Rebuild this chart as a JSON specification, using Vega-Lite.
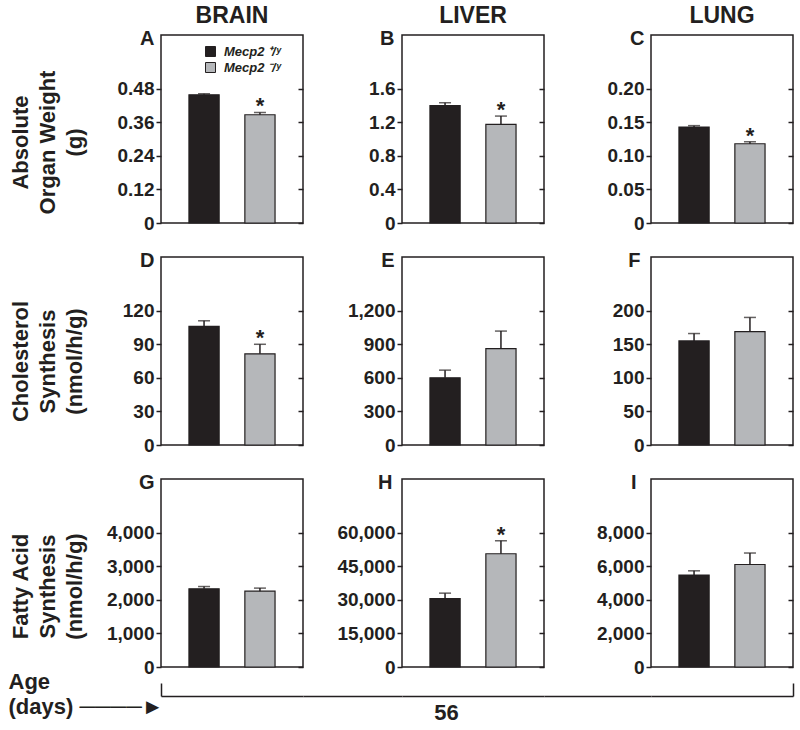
{
 "$schema": "https://vega.github.io/schema/vega-lite/v6.json",
 "background": "white",
 "padding": {"left": 7, "top": 4, "right": 0, "bottom": 0},
 "columns": 5,
 "align": "each",
 "bounds": "flush",
 "spacing": {"row": 34, "column": 0},
 "concat": [
  {
   "width": 142, "height": 188,
   "title": {"text": "BRAIN", "fontSize": 23, "frame": "group", "anchor": "middle", "baseline": "alphabetic", "offset": -18},
   "data": {"values": [{"geno": "+/y", "mean": 0.458, "hi": 0.462, "sig": ""}, {"geno": "-/y", "mean": 0.387, "hi": 0.395, "sig": "*"}]},
   "layer": [
    {"layer": [
     {"mark": {"type": "bar", "stroke": "#231f20", "strokeWidth": 1.2},
      "encoding": {
       "x": {"field": "geno", "type": "nominal", "scale": {"paddingInner": 0.46, "paddingOuter": 0.5}, "axis": {"orient": "top", "labels": false, "ticks": false, "domain": false, "title": "A", "titleX": -7, "titleY": 9, "titleAlign": "right", "titleBaseline": "alphabetic", "titleAngle": 0, "titleFontSize": 20}},
       "y": {"field": "mean", "type": "quantitative", "scale": {"domain": [0, 0.672], "nice": false}, "axis": {"orient": "left", "values": [0, 0.12, 0.24, 0.36, 0.48], "labelExpr": "datum.value == 0 ? '0' : format(datum.value, '.2f')", "title": ["Absolute", "Organ Weight", "(g)"], "titleFontSize": 22, "titleAngle": -90, "titleX": -151, "titleY": 107, "titleAlign": "center", "titleBaseline": "top", "titleLineHeight": 27}},
       "color": {"field": "geno", "type": "nominal", "scale": {"domain": ["+/y", "-/y"], "range": ["#231f20", "#b5b7ba"]}, "legend": {"orient": "none", "legendX": 43, "legendY": 10, "title": null, "symbolType": "square", "symbolSize": 100, "symbolStrokeColor": "#231f20", "symbolStrokeWidth": 1, "labelFont": "Liberation Sans", "labelFontSize": 13, "labelFontStyle": "italic", "labelFontWeight": "bold", "labelColor": "#231f20", "labelOffset": 7, "rowPadding": 1, "padding": 0, "labelExpr": "datum.label == '+/y' ? 'Mecp2 ⁺/ʸ' : 'Mecp2 ⁻/ʸ'"}}
      }},
     {"mark": {"type": "rule", "color": "#231f20", "strokeWidth": 1.5},
      "encoding": {"x": {"field": "geno", "type": "nominal"}, "y": {"field": "mean", "type": "quantitative"}, "y2": {"field": "hi"}}},
     {"mark": {"type": "tick", "orient": "horizontal", "color": "#231f20", "size": 12, "thickness": 1.5},
      "encoding": {"x": {"field": "geno", "type": "nominal"}, "y": {"field": "hi", "type": "quantitative"}}},
     {"mark": {"type": "text", "color": "#231f20", "fontSize": 22, "fontWeight": "bold", "baseline": "alphabetic", "dy": 1},
      "encoding": {"x": {"field": "geno", "type": "nominal"}, "y": {"field": "hi", "type": "quantitative"}, "text": {"field": "sig"}}}
    ]},
    {"mark": {"type": "point", "opacity": 0},
     "encoding": {"y": {"field": "mean", "type": "quantitative", "axis": {"orient": "right", "offset": -5, "values": [0, 0.12, 0.24, 0.36, 0.48], "labels": false, "title": null}}}}
   ]
  },
  {"width": 99, "height": 188, "view": {"stroke": null}, "data": {"values": [{"v": 0}]}, "mark": {"type": "point", "opacity": 0}, "encoding": {}},
  {
   "width": 142, "height": 188,
   "title": {"text": "LIVER", "fontSize": 23, "frame": "group", "anchor": "middle", "baseline": "alphabetic", "offset": -18},
   "data": {"values": [{"geno": "+/y", "mean": 1.40, "hi": 1.433, "sig": ""}, {"geno": "-/y", "mean": 1.174, "hi": 1.274, "sig": "*"}]},
   "layer": [
    {"layer": [
     {"mark": {"type": "bar", "stroke": "#231f20", "strokeWidth": 1.2},
      "encoding": {
       "x": {"field": "geno", "type": "nominal", "scale": {"paddingInner": 0.46, "paddingOuter": 0.5}, "axis": {"orient": "top", "labels": false, "ticks": false, "domain": false, "title": "B", "titleX": -8, "titleY": 9, "titleAlign": "right", "titleBaseline": "alphabetic", "titleAngle": 0, "titleFontSize": 20}},
       "y": {"field": "mean", "type": "quantitative", "scale": {"domain": [0, 2.24], "nice": false}, "axis": {"orient": "left", "values": [0, 0.4, 0.8, 1.2, 1.6], "labelExpr": "datum.value == 0 ? '0' : format(datum.value, '.1f')", "title": null}},
       "color": {"field": "geno", "type": "nominal", "scale": {"domain": ["+/y", "-/y"], "range": ["#231f20", "#b5b7ba"]}, "legend": null}
      }},
     {"mark": {"type": "rule", "color": "#231f20", "strokeWidth": 1.5},
      "encoding": {"x": {"field": "geno", "type": "nominal"}, "y": {"field": "mean", "type": "quantitative"}, "y2": {"field": "hi"}}},
     {"mark": {"type": "tick", "orient": "horizontal", "color": "#231f20", "size": 12, "thickness": 1.5},
      "encoding": {"x": {"field": "geno", "type": "nominal"}, "y": {"field": "hi", "type": "quantitative"}}},
     {"mark": {"type": "text", "color": "#231f20", "fontSize": 22, "fontWeight": "bold", "baseline": "alphabetic", "dy": 1},
      "encoding": {"x": {"field": "geno", "type": "nominal"}, "y": {"field": "hi", "type": "quantitative"}, "text": {"field": "sig"}}}
    ]},
    {"mark": {"type": "point", "opacity": 0},
     "encoding": {"y": {"field": "mean", "type": "quantitative", "axis": {"orient": "right", "offset": -5, "values": [0, 0.4, 0.8, 1.2, 1.6], "labels": false, "title": null}}}}
   ]
  },
  {"width": 107, "height": 188, "view": {"stroke": null}, "data": {"values": [{"v": 0}]}, "mark": {"type": "point", "opacity": 0}, "encoding": {}},
  {
   "width": 142, "height": 188,
   "title": {"text": "LUNG", "fontSize": 23, "frame": "group", "anchor": "middle", "baseline": "alphabetic", "offset": -18},
   "data": {"values": [{"geno": "+/y", "mean": 0.143, "hi": 0.145, "sig": ""}, {"geno": "-/y", "mean": 0.118, "hi": 0.121, "sig": "*"}]},
   "layer": [
    {"layer": [
     {"mark": {"type": "bar", "stroke": "#231f20", "strokeWidth": 1.2},
      "encoding": {
       "x": {"field": "geno", "type": "nominal", "scale": {"paddingInner": 0.46, "paddingOuter": 0.5}, "axis": {"orient": "top", "labels": false, "ticks": false, "domain": false, "title": "C", "titleX": -7, "titleY": 9, "titleAlign": "right", "titleBaseline": "alphabetic", "titleAngle": 0, "titleFontSize": 20}},
       "y": {"field": "mean", "type": "quantitative", "scale": {"domain": [0, 0.28], "nice": false}, "axis": {"orient": "left", "values": [0, 0.05, 0.1, 0.15, 0.2], "labelExpr": "datum.value == 0 ? '0' : format(datum.value, '.2f')", "title": null}},
       "color": {"field": "geno", "type": "nominal", "scale": {"domain": ["+/y", "-/y"], "range": ["#231f20", "#b5b7ba"]}, "legend": null}
      }},
     {"mark": {"type": "rule", "color": "#231f20", "strokeWidth": 1.5},
      "encoding": {"x": {"field": "geno", "type": "nominal"}, "y": {"field": "mean", "type": "quantitative"}, "y2": {"field": "hi"}}},
     {"mark": {"type": "tick", "orient": "horizontal", "color": "#231f20", "size": 12, "thickness": 1.5},
      "encoding": {"x": {"field": "geno", "type": "nominal"}, "y": {"field": "hi", "type": "quantitative"}}},
     {"mark": {"type": "text", "color": "#231f20", "fontSize": 22, "fontWeight": "bold", "baseline": "alphabetic", "dy": 1},
      "encoding": {"x": {"field": "geno", "type": "nominal"}, "y": {"field": "hi", "type": "quantitative"}, "text": {"field": "sig"}}}
    ]},
    {"mark": {"type": "point", "opacity": 0},
     "encoding": {"y": {"field": "mean", "type": "quantitative", "axis": {"orient": "right", "offset": -5, "values": [0, 0.05, 0.1, 0.15, 0.2], "labels": false, "title": null}}}}
   ]
  },
  {
   "width": 142, "height": 188,
   "data": {"values": [{"geno": "+/y", "mean": 106, "hi": 111, "sig": ""}, {"geno": "-/y", "mean": 81.5, "hi": 90, "sig": "*"}]},
   "layer": [
    {"layer": [
     {"mark": {"type": "bar", "stroke": "#231f20", "strokeWidth": 1.2},
      "encoding": {
       "x": {"field": "geno", "type": "nominal", "scale": {"paddingInner": 0.46, "paddingOuter": 0.5}, "axis": {"orient": "top", "labels": false, "ticks": false, "domain": false, "title": "D", "titleX": -7, "titleY": 9, "titleAlign": "right", "titleBaseline": "alphabetic", "titleAngle": 0, "titleFontSize": 20}},
       "y": {"field": "mean", "type": "quantitative", "scale": {"domain": [0, 168], "nice": false}, "axis": {"orient": "left", "values": [0, 30, 60, 90, 120], "labelExpr": "format(datum.value, ',')", "title": ["Cholesterol", "Synthesis", "(nmol/h/g)"], "titleFontSize": 22, "titleAngle": -90, "titleX": -151, "titleY": 104, "titleAlign": "center", "titleBaseline": "top", "titleLineHeight": 27}},
       "color": {"field": "geno", "type": "nominal", "scale": {"domain": ["+/y", "-/y"], "range": ["#231f20", "#b5b7ba"]}, "legend": null}
      }},
     {"mark": {"type": "rule", "color": "#231f20", "strokeWidth": 1.5},
      "encoding": {"x": {"field": "geno", "type": "nominal"}, "y": {"field": "mean", "type": "quantitative"}, "y2": {"field": "hi"}}},
     {"mark": {"type": "tick", "orient": "horizontal", "color": "#231f20", "size": 12, "thickness": 1.5},
      "encoding": {"x": {"field": "geno", "type": "nominal"}, "y": {"field": "hi", "type": "quantitative"}}},
     {"mark": {"type": "text", "color": "#231f20", "fontSize": 22, "fontWeight": "bold", "baseline": "alphabetic", "dy": 1},
      "encoding": {"x": {"field": "geno", "type": "nominal"}, "y": {"field": "hi", "type": "quantitative"}, "text": {"field": "sig"}}}
    ]},
    {"mark": {"type": "point", "opacity": 0},
     "encoding": {"y": {"field": "mean", "type": "quantitative", "axis": {"orient": "right", "offset": -5, "values": [0, 30, 60, 90, 120], "labels": false, "title": null}}}}
   ]
  },
  {"width": 99, "height": 188, "view": {"stroke": null}, "data": {"values": [{"v": 0}]}, "mark": {"type": "point", "opacity": 0}, "encoding": {}},
  {
   "width": 142, "height": 188,
   "data": {"values": [{"geno": "+/y", "mean": 600, "hi": 669, "sig": ""}, {"geno": "-/y", "mean": 862, "hi": 1018, "sig": ""}]},
   "layer": [
    {"layer": [
     {"mark": {"type": "bar", "stroke": "#231f20", "strokeWidth": 1.2},
      "encoding": {
       "x": {"field": "geno", "type": "nominal", "scale": {"paddingInner": 0.46, "paddingOuter": 0.5}, "axis": {"orient": "top", "labels": false, "ticks": false, "domain": false, "title": "E", "titleX": -8, "titleY": 9, "titleAlign": "right", "titleBaseline": "alphabetic", "titleAngle": 0, "titleFontSize": 20}},
       "y": {"field": "mean", "type": "quantitative", "scale": {"domain": [0, 1680], "nice": false}, "axis": {"orient": "left", "values": [0, 300, 600, 900, 1200], "labelExpr": "format(datum.value, ',')", "title": null}},
       "color": {"field": "geno", "type": "nominal", "scale": {"domain": ["+/y", "-/y"], "range": ["#231f20", "#b5b7ba"]}, "legend": null}
      }},
     {"mark": {"type": "rule", "color": "#231f20", "strokeWidth": 1.5},
      "encoding": {"x": {"field": "geno", "type": "nominal"}, "y": {"field": "mean", "type": "quantitative"}, "y2": {"field": "hi"}}},
     {"mark": {"type": "tick", "orient": "horizontal", "color": "#231f20", "size": 12, "thickness": 1.5},
      "encoding": {"x": {"field": "geno", "type": "nominal"}, "y": {"field": "hi", "type": "quantitative"}}},
     {"mark": {"type": "text", "color": "#231f20", "fontSize": 22, "fontWeight": "bold", "baseline": "alphabetic", "dy": 1},
      "encoding": {"x": {"field": "geno", "type": "nominal"}, "y": {"field": "hi", "type": "quantitative"}, "text": {"field": "sig"}}}
    ]},
    {"mark": {"type": "point", "opacity": 0},
     "encoding": {"y": {"field": "mean", "type": "quantitative", "axis": {"orient": "right", "offset": -5, "values": [0, 300, 600, 900, 1200], "labels": false, "title": null}}}}
   ]
  },
  {"width": 107, "height": 188, "view": {"stroke": null}, "data": {"values": [{"v": 0}]}, "mark": {"type": "point", "opacity": 0}, "encoding": {}},
  {
   "width": 142, "height": 188,
   "data": {"values": [{"geno": "+/y", "mean": 155, "hi": 166, "sig": ""}, {"geno": "-/y", "mean": 169, "hi": 190, "sig": ""}]},
   "layer": [
    {"layer": [
     {"mark": {"type": "bar", "stroke": "#231f20", "strokeWidth": 1.2},
      "encoding": {
       "x": {"field": "geno", "type": "nominal", "scale": {"paddingInner": 0.46, "paddingOuter": 0.5}, "axis": {"orient": "top", "labels": false, "ticks": false, "domain": false, "title": "F", "titleX": -11, "titleY": 9, "titleAlign": "right", "titleBaseline": "alphabetic", "titleAngle": 0, "titleFontSize": 20}},
       "y": {"field": "mean", "type": "quantitative", "scale": {"domain": [0, 280], "nice": false}, "axis": {"orient": "left", "values": [0, 50, 100, 150, 200], "labelExpr": "format(datum.value, ',')", "title": null}},
       "color": {"field": "geno", "type": "nominal", "scale": {"domain": ["+/y", "-/y"], "range": ["#231f20", "#b5b7ba"]}, "legend": null}
      }},
     {"mark": {"type": "rule", "color": "#231f20", "strokeWidth": 1.5},
      "encoding": {"x": {"field": "geno", "type": "nominal"}, "y": {"field": "mean", "type": "quantitative"}, "y2": {"field": "hi"}}},
     {"mark": {"type": "tick", "orient": "horizontal", "color": "#231f20", "size": 12, "thickness": 1.5},
      "encoding": {"x": {"field": "geno", "type": "nominal"}, "y": {"field": "hi", "type": "quantitative"}}},
     {"mark": {"type": "text", "color": "#231f20", "fontSize": 22, "fontWeight": "bold", "baseline": "alphabetic", "dy": 1},
      "encoding": {"x": {"field": "geno", "type": "nominal"}, "y": {"field": "hi", "type": "quantitative"}, "text": {"field": "sig"}}}
    ]},
    {"mark": {"type": "point", "opacity": 0},
     "encoding": {"y": {"field": "mean", "type": "quantitative", "axis": {"orient": "right", "offset": -5, "values": [0, 50, 100, 150, 200], "labels": false, "title": null}}}}
   ]
  },
  {
   "width": 142, "height": 188,
   "data": {"values": [{"geno": "+/y", "mean": 2330, "hi": 2397, "sig": ""}, {"geno": "-/y", "mean": 2260, "hi": 2350, "sig": ""}]},
   "resolve": {"scale": {"x": "independent"}},
   "layer": [
    {"layer": [
     {"mark": {"type": "bar", "stroke": "#231f20", "strokeWidth": 1.2},
      "encoding": {
       "x": {"field": "geno", "type": "nominal", "scale": {"paddingInner": 0.46, "paddingOuter": 0.5}, "axis": {"orient": "top", "labels": false, "ticks": false, "domain": false, "title": "G", "titleX": -7, "titleY": 9, "titleAlign": "right", "titleBaseline": "alphabetic", "titleAngle": 0, "titleFontSize": 20}},
       "y": {"field": "mean", "type": "quantitative", "scale": {"domain": [0, 5600], "nice": false}, "axis": {"orient": "left", "values": [0, 1000, 2000, 3000, 4000], "labelExpr": "format(datum.value, ',')", "title": ["Fatty Acid", "Synthesis", "(nmol/h/g)"], "titleFontSize": 22, "titleAngle": -90, "titleX": -151, "titleY": 107, "titleAlign": "center", "titleBaseline": "top", "titleLineHeight": 27}},
       "color": {"field": "geno", "type": "nominal", "scale": {"domain": ["+/y", "-/y"], "range": ["#231f20", "#b5b7ba"]}, "legend": null}
      }},
     {"mark": {"type": "rule", "color": "#231f20", "strokeWidth": 1.5},
      "encoding": {"x": {"field": "geno", "type": "nominal"}, "y": {"field": "mean", "type": "quantitative"}, "y2": {"field": "hi"}}},
     {"mark": {"type": "tick", "orient": "horizontal", "color": "#231f20", "size": 12, "thickness": 1.5},
      "encoding": {"x": {"field": "geno", "type": "nominal"}, "y": {"field": "hi", "type": "quantitative"}}},
     {"mark": {"type": "text", "color": "#231f20", "fontSize": 22, "fontWeight": "bold", "baseline": "alphabetic", "dy": 1},
      "encoding": {"x": {"field": "geno", "type": "nominal"}, "y": {"field": "hi", "type": "quantitative"}, "text": {"field": "sig"}}}
    ]},
    {"mark": {"type": "point", "opacity": 0},
     "encoding": {"y": {"field": "mean", "type": "quantitative", "axis": {"orient": "right", "offset": -5, "values": [0, 1000, 2000, 3000, 4000], "labels": false, "title": null}}}},
    {"data": {"values": [{"v": 0}]}, "mark": {"type": "point", "opacity": 0},
     "encoding": {"x": {"field": "v", "type": "quantitative", "scale": {"domain": [0, 1], "nice": false}, "axis": {"orient": "bottom", "offset": 29, "values": [0], "ticks": true, "tickSize": -13, "labels": false, "domain": true, "domainColor": "#231f20", "domainWidth": 1.5, "title": ["Age", "(days) ────►"], "titleFontSize": 22, "titleX": -153, "titleY": -8, "titleAlign": "left", "titleBaseline": "alphabetic", "titleAngle": 0, "titleLineHeight": 25}}}}
   ]
  },
  {"width": 99, "height": 188, "view": {"stroke": null}, "data": {"values": [{"v": 0}]}, "mark": {"type": "point", "opacity": 0},
   "encoding": {"x": {"field": "v", "type": "quantitative", "scale": {"domain": [0, 1], "nice": false}, "axis": {"orient": "bottom", "offset": 29, "ticks": false, "labels": false, "domain": true, "domainColor": "#231f20", "domainWidth": 1.5, "title": null}}}},
  {
   "width": 142, "height": 188,
   "data": {"values": [{"geno": "+/y", "mean": 30600, "hi": 33000, "sig": ""}, {"geno": "-/y", "mean": 50600, "hi": 56400, "sig": "*"}]},
   "resolve": {"scale": {"x": "independent"}},
   "layer": [
    {"layer": [
     {"mark": {"type": "bar", "stroke": "#231f20", "strokeWidth": 1.2},
      "encoding": {
       "x": {"field": "geno", "type": "nominal", "scale": {"paddingInner": 0.46, "paddingOuter": 0.5}, "axis": {"orient": "top", "labels": false, "ticks": false, "domain": false, "title": "H", "titleX": -10, "titleY": 9, "titleAlign": "right", "titleBaseline": "alphabetic", "titleAngle": 0, "titleFontSize": 20}},
       "y": {"field": "mean", "type": "quantitative", "scale": {"domain": [0, 84000], "nice": false}, "axis": {"orient": "left", "values": [0, 15000, 30000, 45000, 60000], "labelExpr": "format(datum.value, ',')", "title": null}},
       "color": {"field": "geno", "type": "nominal", "scale": {"domain": ["+/y", "-/y"], "range": ["#231f20", "#b5b7ba"]}, "legend": null}
      }},
     {"mark": {"type": "rule", "color": "#231f20", "strokeWidth": 1.5},
      "encoding": {"x": {"field": "geno", "type": "nominal"}, "y": {"field": "mean", "type": "quantitative"}, "y2": {"field": "hi"}}},
     {"mark": {"type": "tick", "orient": "horizontal", "color": "#231f20", "size": 12, "thickness": 1.5},
      "encoding": {"x": {"field": "geno", "type": "nominal"}, "y": {"field": "hi", "type": "quantitative"}}},
     {"mark": {"type": "text", "color": "#231f20", "fontSize": 22, "fontWeight": "bold", "baseline": "alphabetic", "dy": 1},
      "encoding": {"x": {"field": "geno", "type": "nominal"}, "y": {"field": "hi", "type": "quantitative"}, "text": {"field": "sig"}}}
    ]},
    {"mark": {"type": "point", "opacity": 0},
     "encoding": {"y": {"field": "mean", "type": "quantitative", "axis": {"orient": "right", "offset": -5, "values": [0, 15000, 30000, 45000, 60000], "labels": false, "title": null}}}},
    {"data": {"values": [{"v": 0}]}, "mark": {"type": "point", "opacity": 0},
     "encoding": {"x": {"field": "v", "type": "quantitative", "scale": {"domain": [0, 1], "nice": false}, "axis": {"orient": "bottom", "offset": 29, "ticks": false, "labels": false, "domain": true, "domainColor": "#231f20", "domainWidth": 1.5, "title": "56", "titleFontSize": 22, "titleX": 44, "titleY": 23, "titleAlign": "center", "titleBaseline": "alphabetic", "titleAngle": 0}}}}
   ]
  },
  {"width": 107, "height": 188, "view": {"stroke": null}, "data": {"values": [{"v": 0}]}, "mark": {"type": "point", "opacity": 0},
   "encoding": {"x": {"field": "v", "type": "quantitative", "scale": {"domain": [0, 1], "nice": false}, "axis": {"orient": "bottom", "offset": 29, "ticks": false, "labels": false, "domain": true, "domainColor": "#231f20", "domainWidth": 1.5, "title": null}}}},
  {
   "width": 142, "height": 188,
   "data": {"values": [{"geno": "+/y", "mean": 5475, "hi": 5730, "sig": ""}, {"geno": "-/y", "mean": 6107, "hi": 6790, "sig": ""}]},
   "resolve": {"scale": {"x": "independent"}},
   "layer": [
    {"layer": [
     {"mark": {"type": "bar", "stroke": "#231f20", "strokeWidth": 1.2},
      "encoding": {
       "x": {"field": "geno", "type": "nominal", "scale": {"paddingInner": 0.46, "paddingOuter": 0.5}, "axis": {"orient": "top", "labels": false, "ticks": false, "domain": false, "title": "I", "titleX": -15, "titleY": 9, "titleAlign": "right", "titleBaseline": "alphabetic", "titleAngle": 0, "titleFontSize": 20}},
       "y": {"field": "mean", "type": "quantitative", "scale": {"domain": [0, 11200], "nice": false}, "axis": {"orient": "left", "values": [0, 2000, 4000, 6000, 8000], "labelExpr": "format(datum.value, ',')", "title": null}},
       "color": {"field": "geno", "type": "nominal", "scale": {"domain": ["+/y", "-/y"], "range": ["#231f20", "#b5b7ba"]}, "legend": null}
      }},
     {"mark": {"type": "rule", "color": "#231f20", "strokeWidth": 1.5},
      "encoding": {"x": {"field": "geno", "type": "nominal"}, "y": {"field": "mean", "type": "quantitative"}, "y2": {"field": "hi"}}},
     {"mark": {"type": "tick", "orient": "horizontal", "color": "#231f20", "size": 12, "thickness": 1.5},
      "encoding": {"x": {"field": "geno", "type": "nominal"}, "y": {"field": "hi", "type": "quantitative"}}},
     {"mark": {"type": "text", "color": "#231f20", "fontSize": 22, "fontWeight": "bold", "baseline": "alphabetic", "dy": 1},
      "encoding": {"x": {"field": "geno", "type": "nominal"}, "y": {"field": "hi", "type": "quantitative"}, "text": {"field": "sig"}}}
    ]},
    {"mark": {"type": "point", "opacity": 0},
     "encoding": {"y": {"field": "mean", "type": "quantitative", "axis": {"orient": "right", "offset": -5, "values": [0, 2000, 4000, 6000, 8000], "labels": false, "title": null}}}},
    {"data": {"values": [{"v": 0}]}, "mark": {"type": "point", "opacity": 0},
     "encoding": {"x": {"field": "v", "type": "quantitative", "scale": {"domain": [0, 1], "nice": false}, "axis": {"orient": "bottom", "offset": 29, "values": [1], "ticks": true, "tickSize": -13, "labels": false, "domain": true, "domainColor": "#231f20", "domainWidth": 1.5, "title": null}}}}
   ]
  }
 ],
 "config": {
  "font": "Liberation Sans",
  "view": {"stroke": "#231f20", "strokeWidth": 1.5},
  "axis": {"labelFont": "Liberation Sans", "labelFontWeight": "bold", "labelFontSize": 19, "labelColor": "#231f20", "tickColor": "#231f20", "tickWidth": 1.5, "tickSize": 5, "labelPadding": 2, "domain": false, "grid": false, "titleFont": "Liberation Sans", "titleFontWeight": "bold", "titleColor": "#231f20"},
  "title": {"font": "Liberation Sans", "fontWeight": "bold", "color": "#231f20"}
 }
}
